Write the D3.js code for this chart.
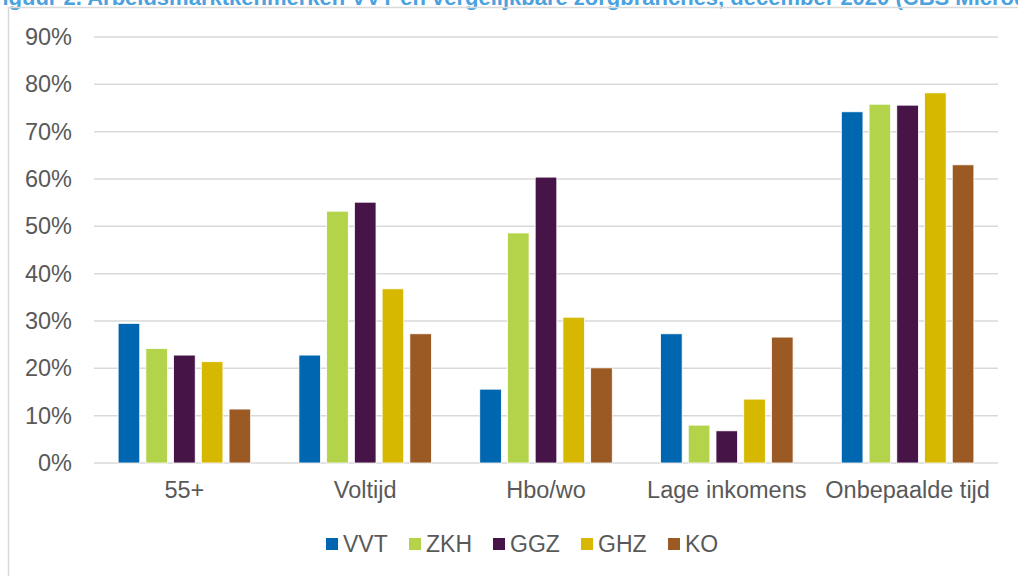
<!DOCTYPE html>
<html>
<head>
<meta charset="utf-8">
<script src="https://cdn.jsdelivr.net/npm/d3@7"></script>
<style>
  body { margin: 0; background: #fff; }
  svg { display: block; font-family: "Liberation Sans", Arial, sans-serif; }
</style>
</head>
<body>
<svg id="svg" width="1018" height="576"></svg>
<script>
// data (share of employees, %)
const categories = ["55+", "Voltijd", "Hbo/wo", "Lage inkomens", "Onbepaalde tijd"];
const series = ["VVT", "ZKH", "GGZ", "GHZ", "KO"];
const colors = ["#0066b0", "#b3d34a", "#461446", "#d6b800", "#9b5a24"];
const vvt = [29.5, 22.8, 15.6, 27.3, 74.2];
const zkh = [24.2, 53.2, 48.6, 8.0, 75.8];
const ggz = [22.8, 55.1, 60.4, 6.8, 75.6];
const ghz = [21.4, 36.8, 30.8, 13.5, 78.2];
const ko = [11.4, 27.3, 20.1, 26.6, 63.0];
const yTicks = [0, 10, 20, 30, 40, 50, 60, 70, 80, 90];
const title = "Figuur 2. Arbeidsmarktkenmerken VVT en vergelijkbare zorgbranches, december 2020 (CBS Microdata)";

const values = [vvt, zkh, ggz, ghz, ko];
const svg = d3.select("svg#svg");

// title, cut off at the top like the source
svg.append("text").attr("x", -11).attr("y", 5)
    .attr("font-size", 22).attr("font-weight", "bold").attr("fill", "#4ba2de")
    .text(title);

// chart frame
svg.append("path").attr("d", "M8.5,576 V7.5 H1018")
    .attr("fill", "none").attr("stroke", "#d9d9d9").attr("stroke-width", 1.5);

const x0 = d3.scaleBand().domain(categories).range([94, 998]);
const x1 = d3.scaleBand().domain(series).range([0, x0.bandwidth()])
    .paddingInner(0.22).paddingOuter(0.87);
const y = d3.scaleLinear().domain([0, 90]).range([463, 37]);

// grid
svg.append("g").selectAll("line").data(yTicks).enter().append("line")
    .attr("x1", 94).attr("x2", 998)
    .attr("y1", d => y(d)).attr("y2", d => y(d))
    .attr("stroke", "#d9d9d9").attr("stroke-width", 1.5);

const yAxis = svg.append("g").attr("transform", "translate(72,0)")
    .call(d3.axisLeft(y).tickValues(yTicks).tickSize(0).tickPadding(0).tickFormat(d => d + "%"));
yAxis.select(".domain").remove();
yAxis.selectAll("text").attr("font-size", 23.5).attr("fill", "#595959")
    .attr("font-family", "Liberation Sans, Arial, sans-serif");

const xAxis = svg.append("g").attr("transform", "translate(0,463)")
    .call(d3.axisBottom(x0).tickSize(0).tickPadding(18));
xAxis.select(".domain").remove();
xAxis.selectAll("text").attr("font-size", 23.5).attr("fill", "#595959")
    .attr("font-family", "Liberation Sans, Arial, sans-serif");

// bars
const groups = svg.append("g").selectAll("g").data(categories).enter().append("g")
    .attr("transform", d => `translate(${x0(d)},0)`);
groups.selectAll("rect")
    .data((c, ci) => series.map((s, si) => ({s: s, v: values[si][ci], color: colors[si]})))
    .enter().append("rect")
    .attr("x", d => x1(d.s)).attr("width", x1.bandwidth())
    .attr("y", d => y(d.v)).attr("height", d => y(0) - y(d.v))
    .attr("fill", d => d.color)
    .attr("stroke", "#fff").attr("stroke-width", 0.8);

// legend
const legendX = [326, 409, 493, 581, 668];
const legend = svg.append("g").selectAll("g").data(series).enter().append("g")
    .attr("transform", (d, i) => `translate(${legendX[i]},538)`);
legend.append("rect").attr("width", 12).attr("height", 12)
    .attr("fill", (d, i) => colors[i]);
legend.append("text").attr("x", 17).attr("y", 14)
    .attr("font-size", 23).attr("fill", "#595959").text(d => d);
</script>
</body>
</html>
